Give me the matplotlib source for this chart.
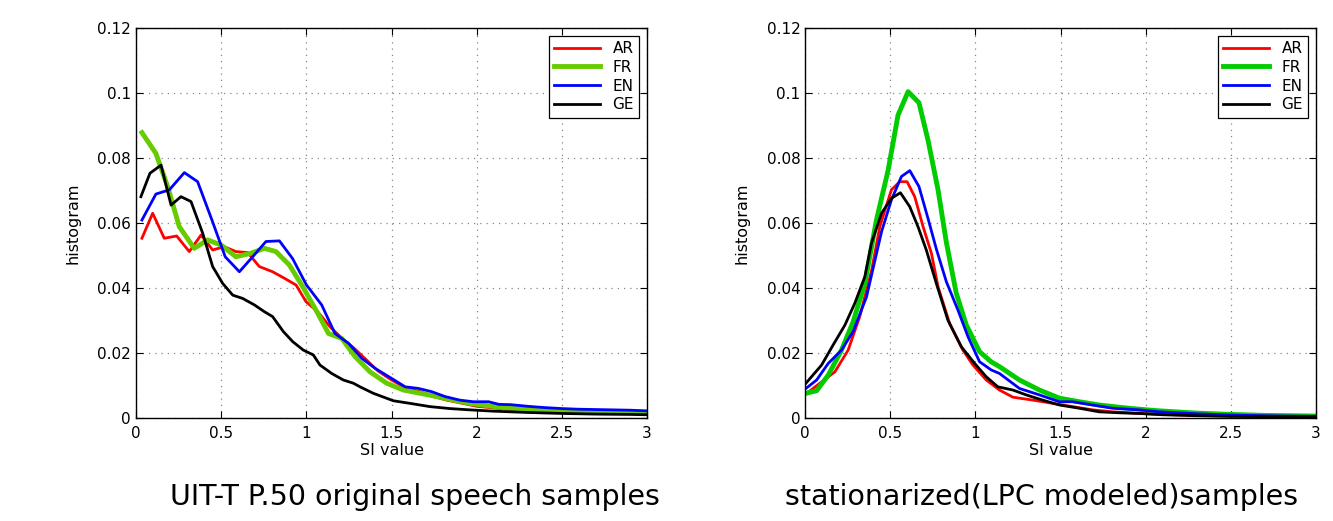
import matplotlib
matplotlib.use('Agg')
import matplotlib.pyplot as plt

plt.rcParams['font.family'] = ['DejaVu Sans']

kielet = ['AR', 'FR', 'EN', 'GE']

# original speech samples (left)
ar1_x = [0.035, 0.098, 0.166, 0.239, 0.313, 0.382, 0.45, 0.518, 0.587, 0.656, 0.724, 0.802, 0.871, 0.94, 0.998,
         1.067, 1.14, 1.21, 1.28, 1.35, 1.42, 1.5, 1.59, 1.668, 1.746, 1.824, 1.9, 2.0, 2.1, 2.2, 2.3, 2.4, 2.5,
         2.6, 2.7, 2.8, 2.9, 3.0]
ar1_y = [0.0553, 0.063, 0.0553, 0.056, 0.0512, 0.0563, 0.0517, 0.0527, 0.0512, 0.0509, 0.0466, 0.045, 0.043,
         0.0409, 0.0358, 0.0327, 0.028, 0.0245, 0.0215, 0.018, 0.0145, 0.0117, 0.0091, 0.0081, 0.0066, 0.0055,
         0.0047, 0.0036, 0.0031, 0.0026, 0.0023, 0.002, 0.0018, 0.0017, 0.0016, 0.0015, 0.0014, 0.0014]
fr1_x = [0.035, 0.117, 0.186, 0.254, 0.342, 0.421, 0.5, 0.587, 0.675, 0.754, 0.822, 0.9, 0.979, 1.067, 1.13,
         1.208, 1.286, 1.374, 1.472, 1.57, 1.668, 1.766, 1.863, 1.96, 2.06, 2.16, 2.26, 2.36, 2.46, 2.56, 2.66,
         2.76, 2.86, 3.0]
fr1_y = [0.0878, 0.0814, 0.0712, 0.0589, 0.0522, 0.0548, 0.0532, 0.0496, 0.0507, 0.0522, 0.0512, 0.0471, 0.0404,
         0.0322, 0.026, 0.0245, 0.0189, 0.0142, 0.0107, 0.0086, 0.0076, 0.0066, 0.0055, 0.0045, 0.0038, 0.0032,
         0.0028, 0.0025, 0.0023, 0.0021, 0.002, 0.0018, 0.0017, 0.0016]
en1_x = [0.035, 0.117, 0.196, 0.284, 0.362, 0.446, 0.524, 0.607, 0.685, 0.763, 0.842, 0.92, 1.0, 1.09, 1.168,
         1.247, 1.325, 1.403, 1.5, 1.58, 1.658, 1.736, 1.814, 1.9, 1.98, 2.07, 2.13, 2.2, 2.3, 2.4, 2.5, 2.6, 2.7,
         2.8, 2.9, 3.0]
en1_y = [0.0609, 0.0689, 0.0702, 0.0755, 0.0727, 0.0609, 0.0496, 0.045, 0.0496, 0.0543, 0.0545, 0.049, 0.041,
         0.0348, 0.026, 0.023, 0.0184, 0.0153, 0.0122, 0.0096, 0.0091, 0.0081, 0.0066, 0.0055, 0.005, 0.005,
         0.0042, 0.0041, 0.0036, 0.0032, 0.0029, 0.0027, 0.0026, 0.0025, 0.0024, 0.0022]
ge1_x = [0.029, 0.082, 0.147, 0.206, 0.264, 0.323, 0.392, 0.45, 0.509, 0.568, 0.626, 0.695, 0.754, 0.802, 0.865,
         0.92, 0.982, 1.041, 1.08, 1.149, 1.217, 1.276, 1.315, 1.393, 1.511, 1.609, 1.726, 1.843, 1.96, 2.1, 2.3,
         2.5, 2.7, 2.9, 3.0]
ge1_y = [0.0681, 0.0753, 0.0778, 0.0655, 0.0681, 0.0666, 0.0568, 0.0466, 0.0414, 0.0378, 0.0368, 0.0348, 0.0327,
         0.0312, 0.0266, 0.0235, 0.0209, 0.0194, 0.0163, 0.0137, 0.0117, 0.0107, 0.0096, 0.0076, 0.0053, 0.0045,
         0.0035, 0.0029, 0.0025, 0.0021, 0.0017, 0.0014, 0.0012, 0.0011, 0.001]

# stationarized samples (right)
ar2_x = [0.004, 0.086, 0.174, 0.252, 0.32, 0.39, 0.438, 0.506, 0.555, 0.598, 0.643, 0.692, 0.741, 0.78, 0.848,
         0.926, 0.985, 1.063, 1.141, 1.22, 1.337, 1.454, 1.571, 1.688, 1.806, 1.962, 2.1, 2.3, 2.5, 2.7, 3.0]
ar2_y = [0.0074, 0.0107, 0.0142, 0.0209, 0.0312, 0.0455, 0.0589, 0.0702, 0.0727, 0.0727, 0.0681, 0.0589, 0.0507,
         0.0404, 0.0291, 0.0209, 0.0163, 0.0117, 0.0086, 0.0064, 0.0055, 0.0045, 0.0035, 0.0025, 0.0019, 0.0014,
         0.0011, 0.0008, 0.0006, 0.0005, 0.0004]
fr2_x = [0.004, 0.067, 0.135, 0.213, 0.281, 0.35, 0.418, 0.487, 0.545, 0.604, 0.668, 0.721, 0.78, 0.829, 0.887,
         0.946, 1.024, 1.092, 1.141, 1.258, 1.376, 1.493, 1.61, 1.727, 1.844, 1.962, 2.08, 2.3, 2.5, 2.7, 3.0]
fr2_y = [0.0076, 0.0084, 0.0132, 0.0209, 0.0296, 0.0414, 0.0609, 0.0763, 0.0932, 0.1004, 0.097, 0.0855, 0.0702,
         0.054, 0.0384, 0.0286, 0.0204, 0.0173, 0.0158, 0.0117, 0.0086, 0.0061, 0.005, 0.004, 0.0033, 0.0027,
         0.0022, 0.0015, 0.0011, 0.0008, 0.0006]
en2_x = [0.004, 0.067, 0.135, 0.213, 0.281, 0.36, 0.448, 0.506, 0.565, 0.614, 0.668, 0.721, 0.77, 0.829, 0.897,
         0.956, 1.024, 1.092, 1.141, 1.258, 1.376, 1.493, 1.57, 1.688, 1.806, 1.962, 2.08, 2.3, 2.5, 2.7, 3.0]
en2_y = [0.0091, 0.0117, 0.0168, 0.0209, 0.0266, 0.0373, 0.0573, 0.0671, 0.0743, 0.0761, 0.0712, 0.0614, 0.052,
         0.0419, 0.0332, 0.025, 0.0173, 0.0148, 0.0137, 0.0091, 0.0071, 0.005, 0.005, 0.004, 0.003, 0.0025, 0.0019,
         0.0013, 0.0009, 0.0007, 0.0005]
ge2_x = [0.004, 0.096, 0.164, 0.233, 0.291, 0.35, 0.389, 0.448, 0.506, 0.559, 0.614, 0.662, 0.711, 0.77, 0.838,
         0.917, 0.995, 1.063, 1.131, 1.22, 1.298, 1.395, 1.493, 1.61, 1.727, 1.844, 1.962, 2.1, 2.3, 2.5, 2.7, 3.0]
ge2_y = [0.0107, 0.0163, 0.0225, 0.0286, 0.0353, 0.0435, 0.0538, 0.063, 0.0676, 0.0693, 0.065, 0.0589, 0.0517,
         0.0414, 0.0301, 0.0219, 0.0168, 0.0127, 0.0096, 0.0086, 0.0071, 0.0055, 0.004, 0.003, 0.0019, 0.0016,
         0.0014, 0.001, 0.0007, 0.0005, 0.0004, 0.0003]

x_ticks = [0, 0.5, 1, 1.5, 2, 2.5, 3]
x_tick_labels = ['0', '0.5', '1', '1.5', '2', '2.5', '3']
y_ticks = [0, 0.02, 0.04, 0.06, 0.08, 0.1, 0.12]
y_tick_labels = ['0', '0.02', '0.04', '0.06', '0.08', '0.1', '0.12']

otsikot = ['UIT-T P.50 original speech samples', 'stationarized(LPC modeled)samples']


def piirrä(ax, sarjat, vihreä):
    värit = ['#ff0000', vihreä, '#0000ff', '#000000']
    paksuus = [2.0, 3.5, 2.0, 2.0]
    for (xs, ys), väri, lw, nimi in zip(sarjat, värit, paksuus, kielet):
        ax.plot(xs, ys, color=väri, lw=lw, label=nimi)
    ax.set_xlim(0, 3)
    ax.set_ylim(0, 0.12)
    ax.set_xticks(x_ticks)
    ax.set_xticklabels(x_tick_labels)
    ax.set_yticks(y_ticks)
    ax.set_yticklabels(y_tick_labels)
    ax.tick_params(direction='in', top=True, right=True, labelsize=11, length=5, width=0.8)
    ax.tick_params(axis='x', pad=6)
    ax.grid(True, linestyle=(0, (1, 4)), color='#888888', lw=0.9)
    for s in ax.spines.values():
        s.set_linewidth(1.0)
    ax.set_xlabel('SI value', fontsize=11.5, labelpad=1)
    ax.set_ylabel('histogram', fontsize=11.5, labelpad=12)
    leg = ax.legend(loc='upper right', fontsize=11, fancybox=False, edgecolor='black', framealpha=1,
                    handlelength=3.0, borderaxespad=0.5, labelspacing=0.25, handletextpad=0.8,
                    borderpad=0.35)
    leg.get_frame().set_linewidth(0.9)


fig = plt.figure(figsize=(13.33, 5.21), dpi=100)
ax1 = fig.add_axes([0.102, 0.1977, 0.3834, 0.7486])
ax2 = fig.add_axes([0.6041, 0.1977, 0.3831, 0.7486])

piirrä(ax1, [(ar1_x, ar1_y), (fr1_x, fr1_y), (en1_x, en1_y), (ge1_x, ge1_y)], '#66cc00')
piirrä(ax2, [(ar2_x, ar2_y), (fr2_x, fr2_y), (en2_x, en2_y), (ge2_x, ge2_y)], '#00cc00')

fig.text(0.311, 0.046, otsikot[0], ha='center', va='center', fontsize=20.5)
fig.text(0.781, 0.046, otsikot[1], ha='center', va='center', fontsize=20.5)

fig.savefig('out.png', dpi=100)
